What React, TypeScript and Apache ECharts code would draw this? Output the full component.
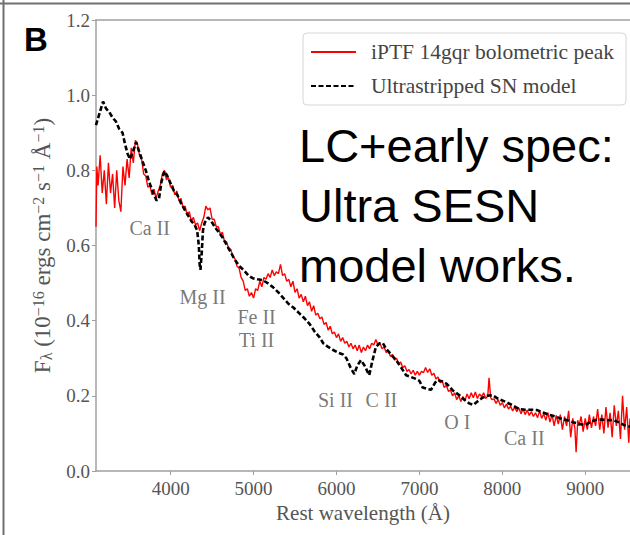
import React, { useEffect, useRef } from "react";
import * as echarts from "echarts";

// Observed spectrum of iPTF 14gqr (rest wavelength in Å, flux in 1e-16 erg/cm2/s/Å)
const observedSpectrum: [number, number][] = [
  [3100, 0.65], [3110, 0.81], [3125, 0.76], [3150, 0.84], [3175, 0.74], [3200, 0.8], [3225, 0.71], [3250, 0.82],
  [3275, 0.74], [3300, 0.79], [3325, 0.7], [3350, 0.8], [3375, 0.72], [3400, 0.69], [3425, 0.81], [3450, 0.76],
  [3475, 0.83], [3500, 0.78], [3525, 0.86], [3550, 0.82], [3575, 0.88], [3600, 0.87], [3625, 0.84], [3650, 0.83],
  [3675, 0.79], [3700, 0.785], [3725, 0.755], [3750, 0.76], [3775, 0.735], [3800, 0.75], [3825, 0.725], [3850, 0.745],
  [3875, 0.76], [3900, 0.79], [3925, 0.8], [3950, 0.775], [3975, 0.78], [4000, 0.755], [4025, 0.76], [4050, 0.735],
  [4075, 0.745], [4100, 0.72], [4125, 0.725], [4150, 0.7], [4175, 0.705], [4200, 0.68], [4225, 0.69], [4250, 0.665],
  [4275, 0.675], [4300, 0.655], [4325, 0.66], [4350, 0.64], [4375, 0.66], [4400, 0.675], [4425, 0.705], [4450, 0.695],
  [4475, 0.7], [4500, 0.67], [4525, 0.67], [4550, 0.65], [4575, 0.65], [4600, 0.63], [4625, 0.635], [4650, 0.61],
  [4675, 0.61], [4700, 0.59], [4725, 0.59], [4750, 0.57], [4775, 0.565], [4800, 0.545], [4825, 0.54], [4850, 0.515],
  [4875, 0.505], [4900, 0.48], [4925, 0.485], [4950, 0.465], [4975, 0.475], [5000, 0.46], [5025, 0.485], [5050, 0.48],
  [5075, 0.505], [5100, 0.49], [5125, 0.515], [5150, 0.51], [5175, 0.525], [5200, 0.515], [5225, 0.535], [5250, 0.52],
  [5275, 0.53], [5300, 0.525], [5325, 0.55], [5350, 0.52], [5375, 0.525], [5400, 0.505], [5425, 0.51], [5450, 0.49],
  [5475, 0.505], [5500, 0.475], [5525, 0.485], [5550, 0.46], [5575, 0.47], [5600, 0.45], [5625, 0.465], [5650, 0.44],
  [5675, 0.45], [5700, 0.425], [5725, 0.44], [5750, 0.415], [5775, 0.42], [5800, 0.405], [5825, 0.41], [5850, 0.39],
  [5875, 0.395], [5900, 0.375], [5925, 0.385], [5950, 0.365], [5975, 0.37], [6000, 0.355], [6025, 0.365], [6050, 0.345],
  [6075, 0.355], [6100, 0.34], [6125, 0.345], [6150, 0.33], [6175, 0.34], [6200, 0.325], [6225, 0.335], [6250, 0.32],
  [6275, 0.335], [6300, 0.315], [6325, 0.33], [6350, 0.32], [6375, 0.335], [6400, 0.325], [6425, 0.34], [6450, 0.335],
  [6475, 0.35], [6500, 0.335], [6525, 0.34], [6550, 0.325], [6575, 0.33], [6600, 0.315], [6625, 0.32], [6650, 0.305],
  [6675, 0.31], [6700, 0.295], [6725, 0.3], [6750, 0.285], [6775, 0.29], [6800, 0.275], [6825, 0.28], [6850, 0.265],
  [6875, 0.27], [6900, 0.258], [6925, 0.268], [6950, 0.255], [6975, 0.265], [7000, 0.255], [7025, 0.265], [7050, 0.262],
  [7075, 0.275], [7100, 0.262], [7125, 0.272], [7150, 0.255], [7175, 0.26], [7200, 0.245], [7225, 0.25], [7250, 0.235],
  [7275, 0.24], [7300, 0.222], [7325, 0.228], [7350, 0.212], [7375, 0.215], [7400, 0.2], [7425, 0.208], [7450, 0.19],
  [7475, 0.2], [7500, 0.185], [7525, 0.198], [7550, 0.188], [7575, 0.205], [7600, 0.192], [7625, 0.208], [7650, 0.195],
  [7675, 0.21], [7700, 0.193], [7725, 0.205], [7750, 0.198], [7775, 0.208], [7800, 0.193], [7825, 0.2], [7840, 0.248],
  [7860, 0.195], [7875, 0.19], [7900, 0.192], [7925, 0.18], [7950, 0.19], [7975, 0.175], [8000, 0.182], [8025, 0.168],
  [8050, 0.178], [8075, 0.165], [8100, 0.172], [8125, 0.16], [8150, 0.17], [8175, 0.158], [8200, 0.168], [8225, 0.152],
  [8250, 0.165], [8275, 0.15], [8300, 0.162], [8325, 0.148], [8350, 0.158], [8375, 0.145], [8400, 0.155], [8425, 0.142],
  [8450, 0.16], [8475, 0.14], [8500, 0.152], [8525, 0.135], [8550, 0.155], [8575, 0.13], [8600, 0.15], [8625, 0.12],
  [8650, 0.148], [8675, 0.125], [8700, 0.15], [8725, 0.11], [8750, 0.145], [8775, 0.12], [8800, 0.16], [8825, 0.09],
  [8850, 0.14], [8875, 0.115], [8890, 0.05], [8910, 0.135], [8925, 0.12], [8950, 0.145], [8975, 0.105], [9000, 0.14],
  [9025, 0.11], [9050, 0.15], [9075, 0.115], [9100, 0.145], [9125, 0.12], [9150, 0.165], [9175, 0.11], [9200, 0.15],
  [9225, 0.1], [9250, 0.17], [9275, 0.115], [9300, 0.155], [9325, 0.09], [9350, 0.175], [9375, 0.12], [9400, 0.16],
  [9425, 0.085], [9450, 0.2], [9475, 0.11], [9500, 0.17], [9525, 0.075], [9540, 0.14],
];

// Ultrastripped SN model spectrum
const modelSpectrum: [number, number][] = [
  [3100, 0.92], [3140, 0.95], [3185, 0.983], [3220, 0.965], [3260, 0.955], [3300, 0.94], [3340, 0.93], [3380, 0.91],
  [3420, 0.9], [3450, 0.87], [3480, 0.845], [3510, 0.83], [3545, 0.85], [3585, 0.875], [3620, 0.85], [3660, 0.825],
  [3700, 0.8], [3740, 0.77], [3790, 0.74], [3830, 0.72], [3860, 0.725], [3890, 0.77], [3925, 0.798], [3960, 0.785],
  [4000, 0.765], [4040, 0.745], [4080, 0.735], [4120, 0.715], [4170, 0.695], [4210, 0.68], [4250, 0.665], [4290, 0.655],
  [4320, 0.64], [4340, 0.6], [4350, 0.55], [4360, 0.535], [4375, 0.58], [4390, 0.64], [4410, 0.66], [4450, 0.675],
  [4490, 0.665], [4530, 0.65], [4580, 0.635], [4630, 0.62], [4680, 0.6], [4730, 0.58], [4780, 0.56], [4830, 0.545],
  [4880, 0.535], [4940, 0.52], [4990, 0.513], [5050, 0.51], [5110, 0.508], [5170, 0.5], [5230, 0.49], [5300, 0.475],
  [5360, 0.46], [5420, 0.445], [5480, 0.435], [5550, 0.42], [5620, 0.405], [5680, 0.39], [5740, 0.37], [5800, 0.355],
  [5840, 0.34], [5900, 0.33], [5960, 0.322], [6020, 0.315], [6080, 0.31], [6120, 0.3], [6170, 0.275], [6215, 0.258],
  [6250, 0.28], [6295, 0.295], [6340, 0.28], [6395, 0.255], [6430, 0.29], [6475, 0.33], [6520, 0.34], [6560, 0.34],
  [6600, 0.325], [6660, 0.31], [6720, 0.295], [6780, 0.275], [6840, 0.255], [6900, 0.25], [6960, 0.245], [7000, 0.24],
  [7040, 0.222], [7100, 0.218], [7140, 0.216], [7190, 0.235], [7220, 0.242], [7280, 0.238], [7330, 0.232], [7400, 0.215],
  [7480, 0.202], [7540, 0.19], [7600, 0.18], [7650, 0.176], [7700, 0.185], [7760, 0.195], [7820, 0.2], [7880, 0.202],
  [7950, 0.192], [8040, 0.184], [8120, 0.175], [8200, 0.165], [8280, 0.163], [8360, 0.163], [8420, 0.162], [8500, 0.155],
  [8570, 0.149], [8640, 0.145], [8700, 0.14], [8770, 0.136], [8850, 0.13], [8930, 0.125], [9000, 0.122], [9060, 0.13],
  [9130, 0.136], [9200, 0.137], [9270, 0.135], [9330, 0.136], [9400, 0.13], [9470, 0.122], [9540, 0.118],
];

// Line identifications: [wavelength, flux, label]
const lineIds: [number, number, string][] = [
  [3747, 0.647, "Ca II"],
  [4386, 0.463, "Mg II"],
  [5036, 0.41, "Fe II"],
  [5036, 0.349, "Ti II"],
  [5988, 0.189, "Si II"],
  [6542, 0.189, "C II"],
  [7458, 0.13, "O I"],
  [8265, 0.088, "Ca II"],
];

const xTickValues = [4000, 5000, 6000, 7000, 8000, 9000];
const seriesNames = ["iPTF 14gqr bolometric peak", "Ultrastripped SN model"];
const noteLines = ["LC+early spec:", "Ultra SESN", "model works."];

const SERIF = "'Liberation Serif', 'Times New Roman', serif";
const SANS = "'Liberation Sans', Arial, sans-serif";
const AXIS_GRAY = "#a0a0a0";
const TEXT_GRAY = "#555";

export default function App() {
  const ref = useRef<HTMLDivElement>(null);

  useEffect(() => {
    if (!ref.current) return;
    const chart = echarts.init(ref.current, undefined, { renderer: "svg" });
    const xMin = 3100;
    const xMax = 9540;
    chart.setOption({
      animation: false,
      backgroundColor: "#ffffff",
      grid: { left: 96, top: 20, right: 0, bottom: 64, containLabel: false },
      legend: {
        data: seriesNames,
        orient: "vertical",
        left: 303,
        top: 33,
        padding: [8, 12, 8, 7],
        itemWidth: 45,
        itemHeight: 12,
        itemGap: 12,
        borderColor: "#d6d6d6",
        borderWidth: 1,
        borderRadius: 4,
        backgroundColor: "#ffffff",
        itemStyle: { opacity: 0, borderWidth: 0 },
        textStyle: { fontFamily: SERIF, fontSize: 21.5, color: "#444", padding: [0, 0, 0, 10] },
      },
      xAxis: [
        {
          type: "value",
          min: xMin,
          max: xMax,
          name: "Rest wavelength (Å)",
          nameLocation: "middle",
          nameGap: 31,
          nameTextStyle: { fontFamily: SERIF, fontSize: 21, color: TEXT_GRAY },
          axisLine: { show: true, lineStyle: { color: AXIS_GRAY, width: 1.5 } },
          axisTick: { show: true, inside: false, length: 4, customValues: xTickValues, lineStyle: { color: AXIS_GRAY } },
          axisLabel: {
            customValues: xTickValues,
            margin: 8,
            fontFamily: SERIF,
            fontSize: 19,
            color: TEXT_GRAY,
            formatter: (v: number) => String(Math.round(v)),
          },
          splitLine: { show: false },
        },
        {
          type: "value",
          position: "top",
          min: xMin,
          max: xMax,
          axisLine: { show: true, lineStyle: { color: AXIS_GRAY, width: 1.5 } },
          axisTick: { show: false },
          axisLabel: { show: false },
          splitLine: { show: false },
        },
      ],
      yAxis: {
        type: "value",
        min: 0,
        max: 1.2,
        interval: 0.2,
        name: "{n|F}{sub|λ}{n| (10}{sup|−16}{n| ergs cm}{sup|−2}{n| s}{sup|−1}{n| Å}{sup|−1}{n|)}",
        nameLocation: "middle",
        nameGap: 42,
        nameRotate: 90,
        nameTextStyle: {
          color: TEXT_GRAY,
          fontFamily: SERIF,
          fontSize: 23,
          rich: {
            n: { fontFamily: SERIF, fontSize: 23, color: TEXT_GRAY, lineHeight: 24 },
            sup: { fontFamily: SERIF, fontSize: 16, color: TEXT_GRAY, verticalAlign: "top", lineHeight: 16 },
            sub: { fontFamily: SERIF, fontSize: 16, color: TEXT_GRAY, verticalAlign: "bottom", lineHeight: 16 },
          },
        },
        axisLine: { show: true, lineStyle: { color: AXIS_GRAY, width: 1.5 } },
        axisTick: { show: true, inside: false, length: 4, lineStyle: { color: AXIS_GRAY } },
        axisLabel: {
          margin: 6,
          fontFamily: SERIF,
          fontSize: 19,
          color: TEXT_GRAY,
          formatter: (v: number) => v.toFixed(1),
        },
        splitLine: { show: false },
      },
      series: [
        {
          name: seriesNames[0],
          type: "line",
          data: observedSpectrum,
          symbol: "none",
          showSymbol: false,
          lineStyle: { color: "#ff0000", width: 1.4 },
          itemStyle: { color: "#ff0000" },
          z: 2,
        },
        {
          name: seriesNames[1],
          type: "line",
          data: modelSpectrum,
          symbol: "none",
          showSymbol: false,
          lineStyle: { color: "#000000", width: 2.6, type: [5, 2.5] },
          itemStyle: { color: "#000000" },
          z: 3,
        },
        {
          name: "lineIds",
          type: "scatter",
          silent: true,
          symbolSize: 0,
          data: lineIds.map(([x, y, t]) => ({ value: [x, y], name: t })),
          label: {
            show: true,
            position: "inside",
            formatter: "{b}",
            fontFamily: SERIF,
            fontSize: 20,
            color: TEXT_GRAY,
          },
          z: 4,
        },
      ],
      graphic: [
        { type: "line", shape: { x1: 3.5, y1: 0, x2: 3.5, y2: 535 }, style: { stroke: "#707070", lineWidth: 2 } },
        { type: "line", shape: { x1: 0, y1: 3.5, x2: 630, y2: 3.5 }, style: { stroke: "#707070", lineWidth: 2 } },
        {
          type: "text",
          left: 24,
          top: 23,
          style: { text: "B", font: `bold 33px ${SANS}`, fill: "#000" },
        },
        {
          type: "text",
          left: 299,
          top: 115,
          z: 10,
          style: {
            text: noteLines.join("\n"),
            fontFamily: SANS,
            fontSize: 47,
            lineHeight: 60,
            fill: "#000",
          },
        },
      ],
    });
    return () => chart.dispose();
  }, []);

  return (
    <div
      ref={ref}
      style={{ position: "fixed", left: 0, top: 0, width: 630, height: 535, background: "#fff" }}
    />
  );
}
